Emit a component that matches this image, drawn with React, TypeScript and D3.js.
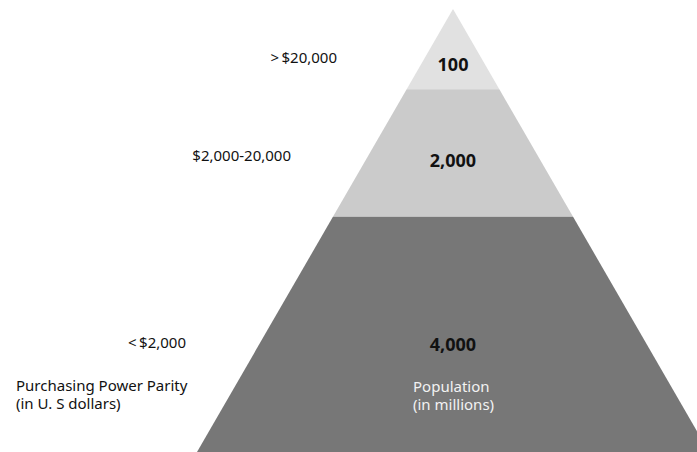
import React from "react";
import * as d3 from "d3";

const incomeLabels = [">\u2009$20,000", "$2,000-20,000", "<\u2009$2,000"];
const populationValues = [100, 2000, 4000];
// relative depth (0 = apex, 1 = bottom of picture) where each tier ends
const tierBreaks = [0, 0.181, 0.469, 1];
const tierColors = ["#e1e1e1", "#cbcbcb", "#777777"];
const axisTitleLeft = ["Purchasing Power Parity", "(in U. S dollars)"];
const axisTitleRight = ["Population", "(in millions)"];

const W = 697;
const H = 452;
const FONT = "'Noto Sans', 'Open Sans', sans-serif";

export default function App() {
  const cx = 453;
  const y = d3.scaleLinear().domain([0, 1]).range([9, 452]);
  const half = d3.scaleLinear().domain([0, 1]).range([0, 256]);
  const fmt = d3.format(",");

  const tiers = populationValues.map((v, i) => {
    const t0 = tierBreaks[i];
    const t1 = tierBreaks[i + 1];
    const pts: [number, number][] = [
      [cx - half(t0), y(t0)],
      [cx + half(t0), y(t0)],
      [cx + half(t1), y(t1)],
      [cx - half(t1), y(t1)],
    ];
    return { v, i, pts, t0, t1 };
  });

  const line = d3.line();
  const numBaselines = [71, 167, 351];
  const incomeBaselines = [63, 161, 348];
  const incomeX = [337, 291, 186];

  return (
    <svg
      width={W}
      height={H}
      style={{ position: "fixed", left: 0, top: 0, background: "#fff" }}
      fontFamily={FONT}
    >
      {tiers.map((t) => (
        <path key={t.i} d={line(t.pts) + "Z"} fill={tierColors[t.i]} />
      ))}
      {tiers.map((t) => (
        <text
          key={"n" + t.i}
          x={cx}
          y={numBaselines[t.i]}
          textAnchor="middle"
          fontSize={18}
          fontWeight="bold"
          fill="#111"
        >
          {fmt(t.v)}
        </text>
      ))}
      {incomeLabels.map((l, i) => (
        <text
          key={"l" + i}
          x={incomeX[i]}
          y={incomeBaselines[i]}
          textAnchor="end"
          fontSize={15}
          fill="#111"
        >
          {l}
        </text>
      ))}
      <text x={16} y={391} fontSize={15} fill="#111">
        {axisTitleLeft.map((s, i) => (
          <tspan key={"a" + i} x={16} dy={i === 0 ? 0 : 18}>
            {s}
          </tspan>
        ))}
      </text>
      <text x={413} y={392} fontSize={15} fill="#f2f2f2">
        {axisTitleRight.map((s, i) => (
          <tspan key={"b" + i} x={413} dy={i === 0 ? 0 : 18}>
            {s}
          </tspan>
        ))}
      </text>
    </svg>
  );
}
